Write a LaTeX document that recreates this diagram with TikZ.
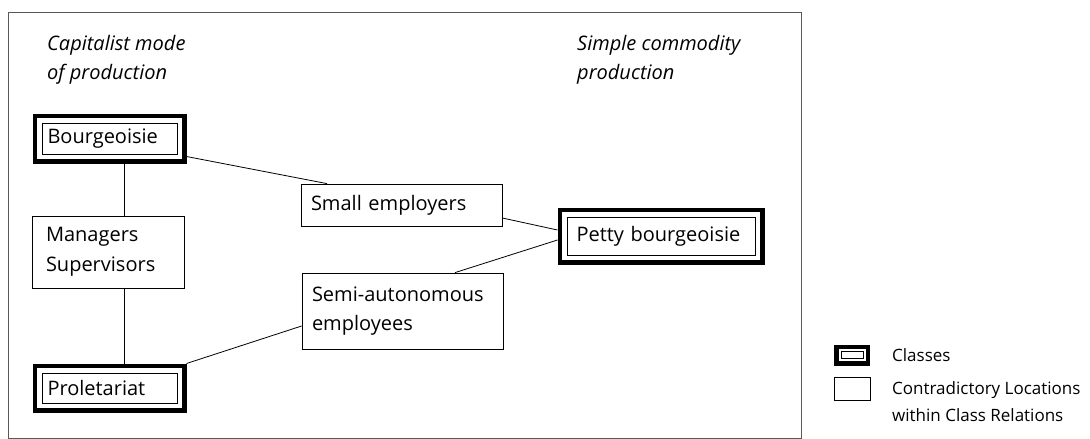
\documentclass[tikz,border=0pt]{standalone}
\usepackage{fontspec}
\setmainfont{Open Sans}
\usetikzlibrary{positioning}

\tikzset{
  loc/.style={draw, line width=0.8pt, align=left, inner xsep=10pt, inner ysep=0pt,
    font=\fontsize{20}{29.5}\selectfont},
  class/.style={draw, line width=1pt, outer sep=9.5pt, align=left, inner xsep=5.5pt,
    inner ysep=0pt, font=\fontsize{20}{29.5}\selectfont},
  rim/.style={line width=4.5pt},
  head/.style={font=\fontsize{20}{29}\selectfont\itshape, align=left, anchor=north west, inner sep=0pt},
  key/.style={font=\fontsize{17}{27}\selectfont, align=left, anchor=west, inner sep=0pt},
  link/.style={line width=0.8pt}
}

\begin{document}
\begin{tikzpicture}[x=1pt,y=-1pt]
\useasboundingbox (0,0) rectangle (1090,439);
\draw[line width=0.9pt, black!65] (8,12) rectangle (801,438);

% headings
\node[head] (capital) at (47,35) {Capitalist mode\\of production};
\node[head] (simple) at (577,35) {Simple commodity\\production};

% classes
\node[class, text width=124pt, minimum height=31pt] (bour) at (109.5,138.5) {Bourgeoisie};
\node[class, text width=124pt, minimum height=30pt] (prol) at (109.5,388) {Proletariat};
\node[class, inner xsep=9.5pt, text width=169pt, minimum height=38pt] (petty) at (661,236) {Petty bourgeoisie};

% contradictory locations
\node[loc, inner xsep=14pt, text width=124pt, minimum height=72pt] (mgr) at (108,252) {Managers\\Supervisors};
\node[loc, text width=181pt, minimum height=42pt] (small) at (401.5,205) {Small employers};
\node[loc, text width=181pt, minimum height=76pt] (semi) at (402.5,311) {Semi-autonomous\\employees};

% legend
\node[class, outer sep=7pt, inner sep=0pt, minimum width=22pt, minimum height=7pt] (keycls) at (852,355) {};
\node[draw, line width=0.8pt, inner sep=0pt, minimum width=36pt, minimum height=23pt] (keyloc) at (852,388.5) {};
\node[key] (keycls-text) at (892,355) {Classes};
\node[key] (keyloc-text) at (892,402) {Contradictory Locations\\within Class Relations};

\foreach \n in {bour,prol,petty,keycls}
  \draw[rim] ([shift={(2.25pt,2.25pt)}]\n.south west) rectangle ([shift={(-2.25pt,-2.25pt)}]\n.north east);

\draw[link] ([xshift=15pt]bour.south) -- ([xshift=15pt]bour.south |- mgr.north);
\draw[link] ([xshift=16pt]mgr.south) -- ([xshift=16pt]mgr.south |- prol.north);
\draw[link] ([yshift=-18pt]bour.east) -- ([xshift=-74.5pt]small.north);
\draw[link] ([yshift=-13pt]small.east) -- ([yshift=6pt]petty.west);
\draw[link] ([yshift=-4pt]petty.west) -- ([xshift=52.5pt]semi.north);
\draw[link] ([yshift=-15pt]semi.west) -- (prol.north east);
\end{tikzpicture}
\end{document}
